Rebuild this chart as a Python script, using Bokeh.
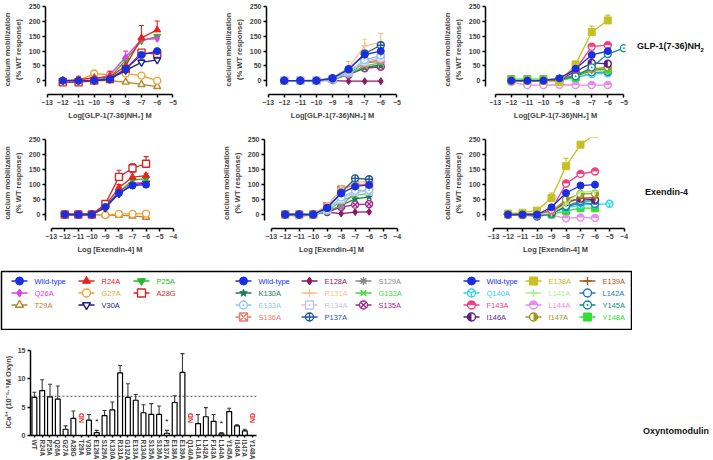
import math
from bokeh.plotting import figure
from bokeh.models import Range1d, FixedTicker, Div, Span, FactorRange
from bokeh.layouts import row, column
from bokeh.embed import file_html
from bokeh.resources import INLINE
from bokeh.core.properties import value

FONT = "Liberation Sans"

# ---------------- data ----------------
LOGC = [-12, -11, -10, -9, -8, -7, -6]
LOGC_EXT = [-12, -11, -10, -9, -8, -7, -6, -5]

# GLP-1(7-36)NH2, group 1 (N-terminal residues)
G1_WT = [0, 0, 1, 5, 40, 87, 100]
G1_R24A = [0, 3, 10, 12, 50, 145, 172]
G1_R24A_ERR = [0, 12, 0, 20, 0, 42, 30]
G1_P25A = [0, 0, 2, 10, 70, 135, 150]
G1_Q26A = [0, 0, 2, 20, 80, 140, 142]
G1_Q26A_ERR = [0, 0, 0, 0, 20, 0, 5]
G1_G27A = [0, 0, 24, 20, 24, 17, 0]
G1_G27A_ERR = [0, 0, 8, 10, 0, 0, 0]
G1_A28G = [-6, -6, 0, 5, 40, 95, 90]
G1_A28G_ERR = [0, 0, 0, 0, 0, 5, 8]
G1_T29A = [0, 0, 0, 0, -5, -13, -20]
G1_V30A = [0, 0, 0, 5, 35, 62, 70]
G1_V30A_ERR = [0, 0, 0, 0, 0, 8, 6]

# GLP-1(7-36)NH2, group 2 (residues 128-137)
G2_WT = [0, 0, 0, 8, 39, 88, 100]
G2_E128A = [0, 0, 0, 0, -2, -2, -2]
G2_S129A = [0, 0, 2, 5, 25, 60, 65]
G2_K130A = [0, 0, 0, 3, 22, 45, 53]
G2_R131A = [0, 0, 3, 10, 45, 118, 130]
G2_R131A_ERR = [0, 0, 0, 6, 20, 22, 30]
G2_G132A = [0, 0, 0, 3, 22, 50, 60]
G2_E133A = [0, 0, 0, 5, 30, 70, 85]
G2_R134A = [0, 0, 0, 5, 28, 65, 78]
G2_S135A = [0, 0, 0, 3, 20, 42, 47]
G2_S136A = [0, 0, 0, 5, 28, 60, 72]
G2_P137A = [0, 0, 0, 8, 38, 92, 120]
G2_P137A_ERR = [0, 0, 0, 0, 0, 10, 8]

# GLP-1(7-36)NH2, group 3 (residues 138-148)
G3_WT = [0, 0, 0, 8, 40, 87, 100]
G3_E138A = [0, 0, 0, -5, 55, 165, 204]
G3_E138A_ERR = [0, 0, 0, 0, 0, 20, 18]
G3_E139A = [0, 0, 0, 3, 15, 35, 40]
G3_Q140A = [0, 0, 0, 2, 10, 22, 25]
G3_L141A = [0, 0, 0, 2, 12, 30, 35]
G3_L142A = [0, 0, 0, 2, 12, 28, 30]
G3_F143A = [0, 0, 0, 5, 38, 115, 120]
G3_F143A_ERR = [0, 0, 0, 0, 0, 8, 5]
G3_L144A = [-5, -15, -15, -14, -15, -15, -15]
G3_Y145A = [0, 0, 0, 3, 15, 45, 90, 110]
G3_I146A = [0, 0, 0, 5, 30, 60, 57]
G3_I147A = [0, 0, 0, 5, 20, 40, 45]
G3_Y148A = [5, 5, 5, 5, 10, 42, 37]

# Exendin-4, group 1
X1_WT = [0, 0, 0, 25, 72, 97, 100]
X1_R24A = [0, 0, 0, 30, 90, 125, 130]
X1_R24A_ERR = [0, 0, 0, 0, 10, 15, 8]
X1_P25A = [0, 0, 0, 25, 75, 115, 120]
X1_Q26A = [0, 0, 0, 25, 78, 105, 108]
X1_G27A = [0, 0, 0, -2, 2, 2, 3]
X1_A28G = [0, 0, 0, 35, 126, 155, 170]
X1_A28G_ERR = [0, 0, 0, 0, 22, 15, 24]
X1_T29A = [0, 0, 0, -2, -3, -5, -9]
X1_V30A = [0, 0, 0, 22, 70, 100, 105]

# Exendin-4, group 2
X2_WT = [0, 0, 0, 22, 71, 94, 99]
X2_E128A = [0, 0, 0, 8, 3, 8, 9]
X2_S129A = [0, 0, 0, 12, 28, 75, 80]
X2_K130A = [0, 0, 0, 8, 30, 52, 59]
X2_R131A = [0, 0, 5, 30, 85, 110, 108]
X2_G132A = [0, -8, 0, 10, 46, 65, 70]
X2_E133A = [0, 0, 0, 15, 57, 80, 82]
X2_R134A = [0, 0, 0, 15, 50, 76, 78]
X2_S135A = [0, 0, 0, 8, 25, 33, 35]
X2_S136A = [0, 0, 0, 28, 84, 100, 102]
X2_P137A = [0, 0, 0, 22, 73, 121, 118]

# Exendin-4, group 3
X3_WT = [0, 0, 0, 24, 72, 97, 100]
X3_E138A = [3, 6, 13, 55, 162, 234, 270]
X3_E138A_ERR = [0, 0, 0, 17, 26, 8, 0]
X3_E139A = [0, 0, 0, 8, 38, 55, 56]
X3_Q140A = [0, 0, 0, 5, 22, 32, 34, 36]
X3_L141A = [0, 0, 0, 5, 35, 75, 77]
X3_L142A = [0, 0, -7, 3, 25, 40, 35]
X3_F143A = [0, 0, 0, 15, 104, 136, 144]
X3_L144A = [0, -3, -5, -2, -13, -10, -12]
X3_Y145A = [0, 0, 0, 3, 28, 45, 46]
X3_I146A = [0, 0, 0, 8, 42, 53, 49]
X3_I147A = [0, 0, 0, 10, 50, 69, 70]
X3_Y148A = [0, 0, 0, 0, 12, 21, 21]

# Oxyntomodulin bar chart
BAR_CATS = ["WT", "R24A", "P25A", "Q26A", "G27A", "A28G", "T29A", "V30A", "E128A",
            "S129A", "K130A", "R131A", "G132A", "E133A", "R134A", "S135A", "S136A",
            "P137A", "E138A", "E139A", "Q140A", "L141A", "L142A", "F143A", "L144A",
            "Y145A", "I146A", "I147A", "Y148A"]
BAR_VALS = [6.7, 7.9, 6.8, 6.4, 1.1, 3.0, None, 2.7, 0.5,
            3.5, 4.5, 11.0, 6.7, 6.2, 4.0, 3.7, 3.7,
            0.4, 5.8, 11.1, None, 2.1, 3.3, 2.5, 0.3,
            4.2, 1.7, 0.8, None]
BAR_ERRS = [0.9, 1.9, 2.2, 2.3, 0.6, 1.3, None, 1.0, 0.4,
            0.9, 1.4, 1.3, 2.4, 1.0, 1.4, 1.9, 1.5,
            0.5, 1.2, 3.3, None, 1.6, 1.6, 1.2, 0.2,
            0.6, 0.2, 0.3, None]
STAR_CATS = ["E128A", "P137A", "L144A"]
REF_LEVEL = 6.9

# legend groups (row-major, 3 columns)
LEG1 = ["Wild-type", "R24A", "P25A", "Q26A", "G27A", "A28G", "T29A", "V30A"]
LEG2 = ["Wild-type", "E128A", "S129A", "K130A", "R131A", "G132A", "E133A", "R134A",
        "S135A", "S136A", "P137A"]
LEG3 = ["Wild-type", "E138A", "E139A", "Q140A", "L141A", "L142A", "F143A", "L144A",
        "Y145A", "I146A", "I147A", "Y148A"]

# name -> (colour, marker, fill)
STYLE = {
    "Wild-type": ("#1a2fe0", "circle", "full"),
    "R24A": ("#e8231f", "triangle", "full"),
    "P25A": ("#22bb22", "inverted_triangle", "full"),
    "Q26A": ("#e040e8", "diamond", "full"),
    "G27A": ("#f0a232", "circle", "none"),
    "A28G": ("#cc2a2a", "square", "none"),
    "T29A": ("#b8842a", "triangle", "none"),
    "V30A": ("#1c1c88", "inverted_triangle", "none"),
    "E128A": ("#8a1a5e", "diamond", "full"),
    "S129A": ("#8a8a8a", "asterisk", "none"),
    "K130A": ("#1f7a52", "star", "full"),
    "R131A": ("#f5c48a", "cross", "none"),
    "G132A": ("#3ddc3d", "x", "none"),
    "E133A": ("#8ec8ee", "circle_dot", "none"),
    "R134A": ("#c6c2f2", "square_dot", "none"),
    "S135A": ("#a02a8c", "circle_x", "none"),
    "S136A": ("#e8806c", "square_x", "none"),
    "P137A": ("#1e5a96", "circle_cross", "none"),
    "E138A": ("#c8c020", "square", "full"),
    "E139A": ("#a8561e", "cross", "none"),
    "Q140A": ("#33d4ee", "circle_y", "none"),
    "L141A": ("#b2ee88", "cross", "none"),
    "L142A": ("#1e74c4", "circle", "none"),
    "F143A": ("#f0407e", "circle", "top"),
    "L144A": ("#e88cee", "circle", "top"),
    "Y145A": ("#138a8c", "circle_dot", "none"),
    "I146A": ("#5a1e8c", "circle", "left"),
    "I147A": ("#a0981e", "circle", "right"),
    "Y148A": ("#33dd33", "square", "full"),
}
HALF = {"top": (0.0, math.pi), "left": (math.pi / 2, 3 * math.pi / 2),
        "right": (-math.pi / 2, math.pi / 2)}


def add_marker(p, xs, ys, name, size):
    color, marker, fill = STYLE[name]
    if fill == "full":
        p.scatter(xs, ys, marker=marker, size=size, fill_color=color,
                  line_color=color, line_width=1)
    elif fill == "none":
        p.scatter(xs, ys, marker=marker, size=size, fill_color="white",
                  line_color=color, line_width=1.4)
    else:
        p.scatter(xs, ys, marker="circle", size=size, fill_color="white",
                  line_color=color, line_width=1.4)
        a0, a1 = HALF[fill]
        p.wedge(xs, ys, radius=size / 2, radius_units="screen", start_angle=a0,
                end_angle=a1, fill_color=color, line_color=None)


def add_series(p, xs, ys, name, err=None, size=7):
    color = STYLE[name][0]
    p.line(xs, ys, line_color=color, line_width=1.3)
    if err:
        ex = [x for x, e in zip(xs, err) if e > 0]
        ey0 = [y for y, e in zip(ys, err) if e > 0]
        ey1 = [y + e for y, e in zip(ys, err) if e > 0]
        p.segment(ex, ey0, ex, ey1, line_color=color, line_width=1.1)
        p.scatter(ex, ey1, marker="dash", size=5, line_color=color, line_width=1.1)
    add_marker(p, xs, ys, name, size)


def style_axes(p):
    p.grid.visible = False
    p.outline_line_color = None
    for ax in p.xaxis + p.yaxis:
        ax.axis_line_width = 1.5
        ax.major_tick_line_width = 1.5
        ax.major_tick_out = 3
        ax.major_tick_in = 0
        ax.minor_tick_line_color = None
        ax.major_label_text_font = FONT
        ax.major_label_text_font_size = "7px"
        ax.major_label_text_font_style = "bold"
        ax.major_label_standoff = 2
        ax.axis_label_text_font = FONT
        ax.axis_label_text_font_size = "7.5px"
        ax.axis_label_text_font_style = "bold"
        ax.axis_label_standoff = 3


def curve_fig(width, height, bl, br, bt, bb, xr, xend, xlabel):
    p = figure(width=width, height=height, x_range=Range1d(*xr), y_range=Range1d(-47, 258),
               output_backend="svg", toolbar_location=None,
               min_border_left=bl, min_border_right=br, min_border_top=bt,
               min_border_bottom=bb)
    style_axes(p)
    p.xaxis.ticker = FixedTicker(ticks=list(range(-13, xend + 1)))
    p.xaxis.bounds = (-13, xend)
    p.yaxis.ticker = FixedTicker(ticks=[0, 50, 100, 150, 200, 250])
    p.yaxis.bounds = (-20, 250)
    p.xaxis.axis_label = xlabel
    p.yaxis.axis_label = "calcium mobilization\n(% WT response)"
    return p


GLP_LABEL = "Log[GLP-1(7-36)NH\u2082] M"
EX_LABEL = "Log [Exendin-4] M"

# ---- row 1: GLP-1 ----
f1 = curve_fig(182, 122, 42, 8, 4, 26, (-13.1, -4.9), -5, GLP_LABEL)
for nm, ys, er in [("T29A", G1_T29A, None), ("G27A", G1_G27A, G1_G27A_ERR),
                   ("A28G", G1_A28G, G1_A28G_ERR), ("V30A", G1_V30A, G1_V30A_ERR),
                   ("P25A", G1_P25A, None), ("Q26A", G1_Q26A, G1_Q26A_ERR),
                   ("R24A", G1_R24A, G1_R24A_ERR), ("Wild-type", G1_WT, None)]:
    add_series(f1, LOGC, ys, nm, er)

f2 = curve_fig(222, 122, 84, 6, 4, 26, (-13.1, -4.9), -5, GLP_LABEL)
for nm, ys, er in [("E128A", G2_E128A, None), ("S135A", G2_S135A, None),
                   ("K130A", G2_K130A, None), ("G132A", G2_G132A, None),
                   ("S129A", G2_S129A, None), ("S136A", G2_S136A, None),
                   ("R134A", G2_R134A, None), ("E133A", G2_E133A, None),
                   ("R131A", G2_R131A, G2_R131A_ERR), ("P137A", G2_P137A, G2_P137A_ERR),
                   ("Wild-type", G2_WT, None)]:
    add_series(f2, LOGC, ys, nm, er)

f3 = curve_fig(224, 122, 81, 3, 4, 26, (-13.6, -4.9), -5, GLP_LABEL)
for nm, xs, ys, er in [("L144A", LOGC, G3_L144A, None), ("Q140A", LOGC, G3_Q140A, None),
                       ("L142A", LOGC, G3_L142A, None), ("L141A", LOGC, G3_L141A, None),
                       ("E139A", LOGC, G3_E139A, None), ("Y148A", LOGC, G3_Y148A, None),
                       ("I147A", LOGC, G3_I147A, None), ("I146A", LOGC, G3_I146A, None),
                       ("Y145A", LOGC_EXT, G3_Y145A, None),
                       ("F143A", LOGC, G3_F143A, G3_F143A_ERR),
                       ("E138A", LOGC, G3_E138A, G3_E138A_ERR),
                       ("Wild-type", LOGC, G3_WT, None)]:
    add_series(f3, xs, ys, nm, er)

# ---- row 2: Exendin-4 ----
f4 = curve_fig(182, 124, 40, 8, 5, 27, (-13.42, -3.9), -4, EX_LABEL)
for nm, ys, er in [("T29A", X1_T29A, None), ("G27A", X1_G27A, None),
                   ("V30A", X1_V30A, None), ("Q26A", X1_Q26A, None),
                   ("P25A", X1_P25A, None), ("R24A", X1_R24A, X1_R24A_ERR),
                   ("A28G", X1_A28G, X1_A28G_ERR), ("Wild-type", X1_WT, None)]:
    add_series(f4, LOGC, ys, nm, er)

f5 = curve_fig(222, 124, 82, 6, 5, 27, (-13.48, -3.9), -4, EX_LABEL)
for nm, ys, er in [("E128A", X2_E128A, None), ("S135A", X2_S135A, None),
                   ("K130A", X2_K130A, None), ("G132A", X2_G132A, None),
                   ("S129A", X2_S129A, None), ("R134A", X2_R134A, None),
                   ("E133A", X2_E133A, None), ("S136A", X2_S136A, None),
                   ("R131A", X2_R131A, None), ("P137A", X2_P137A, None),
                   ("Wild-type", X2_WT, None)]:
    add_series(f5, LOGC, ys, nm, er)

f6 = curve_fig(224, 124, 81, 3, 5, 27, (-13.55, -3.9), -4, EX_LABEL)
for nm, xs, ys, er in [("L144A", LOGC, X3_L144A, None), ("Y148A", LOGC, X3_Y148A, None),
                       ("Q140A", LOGC_EXT, X3_Q140A, None), ("L142A", LOGC, X3_L142A, None),
                       ("Y145A", LOGC, X3_Y145A, None), ("I146A", LOGC, X3_I146A, None),
                       ("E139A", LOGC, X3_E139A, None), ("I147A", LOGC, X3_I147A, None),
                       ("L141A", LOGC, X3_L141A, None), ("F143A", LOGC, X3_F143A, None),
                       ("E138A", LOGC, X3_E138A, X3_E138A_ERR),
                       ("Wild-type", LOGC, X3_WT, None)]:
    add_series(f6, xs, ys, nm, er)


def side_label(html, width, height, top, left=4):
    return Div(text=f'<div style="margin-top:{top}px;margin-left:{left}px;'
                    f'font-family:{FONT};font-weight:bold;font-size:9px;'
                    f'white-space:nowrap;color:#111">{html}</div>',
               width=width, height=height)


d1 = side_label("GLP-1(7-36)NH<sub style='font-size:6px'>2</sub>", 69, 122, 35)
d2 = side_label("Exendin-4", 69, 124, 49, 12)

# ---- legend box ----
LW, LH = 630, 58
leg = figure(width=LW + 2, height=LH + 6, x_range=Range1d(0, LW), y_range=Range1d(0, LH),
             x_axis_type=None, y_axis_type=None, output_backend="svg",
             toolbar_location=None, min_border_left=1, min_border_right=1,
             min_border_top=5, min_border_bottom=1)
leg.grid.visible = False
leg.outline_line_color = "black"
leg.outline_line_width = 1.5
ROW_OFF = [9.5, 21.5, 33.5, 45.5]
GROUPS = [(LEG1, [33, 100, 155]), (LEG2, [257, 323, 377]), (LEG3, [485, 547, 601])]
tx, ty, tt, tc = [], [], [], []
for names, text_x in GROUPS:
    for i, nm in enumerate(names):
        c, r = i % 3, i // 3
        mx = text_x[c] - 15
        my = LH - ROW_OFF[r]
        color = STYLE[nm][0]
        leg.segment([mx - 8], [my], [mx + 8], [my], line_color=color, line_width=1.6)
        add_marker(leg, [mx], [my], nm, 8)
        tx.append(text_x[c])
        ty.append(my)
        tt.append(nm)
        tc.append(color)
leg.text(tx, ty, text=tt, text_color=tc, text_font=value(FONT), text_font_size="7.5px",
         text_baseline="middle", text_align="left")

# ---- Oxyntomodulin bar chart ----
bp = figure(width=262, height=133, x_range=FactorRange(factors=BAR_CATS),
            y_range=Range1d(0, 15.3), output_backend="svg", toolbar_location=None,
            min_border_left=22, min_border_right=6, min_border_top=18, min_border_bottom=24)
style_axes(bp)
bp.yaxis.ticker = FixedTicker(ticks=[0, 5, 10, 15])
bp.yaxis.bounds = (0, 15)
bp.yaxis.axis_label = "iCa\u00b2\u207a (10\u207b\u2075\u22c5\u2075M Oxyn)"
bp.yaxis.axis_label_standoff = 2
bp.xaxis.major_label_orientation = "vertical"
bp.xaxis.major_label_text_font_size = "6.5px"
bp.xaxis.major_tick_out = 2
bc = [c for c, v in zip(BAR_CATS, BAR_VALS) if v is not None]
bv = [v for v in BAR_VALS if v is not None]
be = [e for e in BAR_ERRS if e is not None]
btop = [v + e for v, e in zip(bv, be)]
bp.segment(bc, bv, bc, btop, line_color="#3a3a3a", line_width=1.1)
bp.scatter(bc, btop, marker="dash", size=4, line_color="#3a3a3a", line_width=1.1)
bp.vbar(x=bc, top=bv, width=0.62, fill_color="white", line_color="black", line_width=1.2)
nd_cats = [c for c, v in zip(BAR_CATS, BAR_VALS) if v is None]
bp.text(nd_cats, [2.2] * len(nd_cats), text=["ND"] * len(nd_cats), angle=math.pi / 2,
        text_color="#e02424", text_font=value(FONT), text_font_size="7px",
        text_font_style="bold", text_baseline="middle", text_align="left")
star_y = [BAR_VALS[BAR_CATS.index(c)] + BAR_ERRS[BAR_CATS.index(c)] + 1.6 for c in STAR_CATS]
bp.text(STAR_CATS, star_y, text=["*"] * len(STAR_CATS), text_font=value(FONT),
        text_font_size="8px", text_baseline="middle", text_align="center")
bp.add_layout(Span(location=REF_LEVEL, dimension="width", line_dash="2 2",
                   line_color="#222222", line_width=0.8))

d3 = side_label("Oxyntomodulin", 697 - 262, 133, 90, 376)

layout = column(row(f1, f2, f3, d1), row(f4, f5, f6, d2), leg, row(bp, d3))
open("out.html", "w").write(file_html(layout, INLINE))
